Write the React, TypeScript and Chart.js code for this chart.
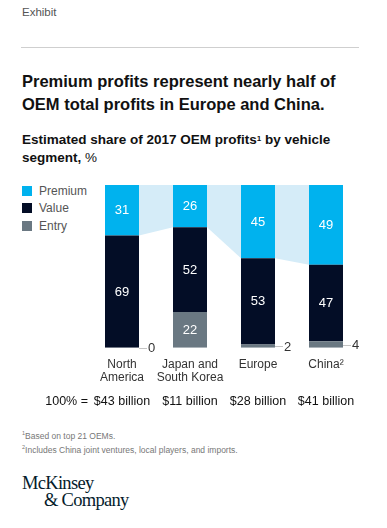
import React, { useEffect, useRef } from "react";
import { Chart, registerables } from "chart.js";

Chart.register(...registerables);

const categories: string[][] = [["North", "America"], ["Japan and", "South Korea"], ["Europe"], ["China²"]];
const premium = [31, 26, 45, 49];
const valueSeg = [69, 52, 53, 47];
const entry = [0, 22, 2, 4];
const totals = ["$43 billion", "$11 billion", "$28 billion", "$41 billion"];
const totalsPrefix = "100% =";

const SANS = '"Liberation Sans", Arial, sans-serif';
const C_PREMIUM = "#00b2ee";
const C_VALUE = "#030d26";
const C_ENTRY = "#6a7882";
const C_CONNECT = "#d5ecf8";

const connectorPlugin = {
  id: "connector",
  beforeDatasetsDraw(chart: any) {
    const meta = chart.getDatasetMeta(2);
    const els = meta.data;
    const ctx = chart.ctx;
    ctx.save();
    ctx.fillStyle = C_CONNECT;
    for (let i = 0; i < els.length - 1; i++) {
      const a = els[i];
      const b = els[i + 1];
      const ar = a.x + a.width / 2;
      const bl = b.x - b.width / 2;
      ctx.beginPath();
      ctx.moveTo(ar, a.y);
      ctx.lineTo(bl, b.y);
      ctx.lineTo(bl, b.base);
      ctx.lineTo(ar, a.base);
      ctx.closePath();
      ctx.fill();
    }
    ctx.restore();
  },
};

const labelPlugin = {
  id: "segLabels",
  afterDatasetsDraw(chart: any) {
    const ctx = chart.ctx;
    ctx.save();
    ctx.font = `13px ${SANS}`;
    chart.data.datasets.forEach((ds: any, di: number) => {
      const meta = chart.getDatasetMeta(di);
      meta.data.forEach((el: any, i: number) => {
        const v = ds.data[i];
        const cy = (el.y + el.base) / 2;
        if (v >= 5) {
          ctx.fillStyle = "#ffffff";
          ctx.textAlign = "center";
          ctx.textBaseline = "middle";
          ctx.fillText(String(v), el.x, cy + 0.5);
        } else {
          const right = el.x + el.width / 2;
          ctx.strokeStyle = "#c4c4c4";
          ctx.lineWidth = 1;
          ctx.beginPath();
          ctx.moveTo(right, Math.round(cy) + 0.5);
          ctx.lineTo(right + 8, Math.round(cy) + 0.5);
          ctx.stroke();
          ctx.fillStyle = "#333333";
          ctx.textAlign = "left";
          ctx.textBaseline = "middle";
          ctx.fillText(String(v), right + 9, cy + 1);
        }
      });
    });
    // totals row
    const xs = chart.scales.x;
    const y = chart.chartArea.bottom + 57;
    ctx.fillStyle = "#111111";
    ctx.font = `12.5px ${SANS}`;
    ctx.textBaseline = "alphabetic";
    ctx.textAlign = "right";
    ctx.fillText(totalsPrefix, 88, y);
    ctx.textAlign = "center";
    totals.forEach((t, i) => {
      ctx.fillText(t, xs.getPixelForValue(i), y);
    });
    ctx.restore();
  },
};

export default function App() {
  const ref = useRef<HTMLCanvasElement>(null);
  useEffect(() => {
    document.body.style.margin = "0";
    const chart = new Chart(ref.current!, {
      type: "bar",
      data: {
        labels: categories,
        datasets: [
          { label: "Entry", data: entry, backgroundColor: C_ENTRY },
          { label: "Value", data: valueSeg, backgroundColor: C_VALUE },
          { label: "Premium", data: premium, backgroundColor: C_PREMIUM },
        ],
      },
      options: {
        responsive: false,
        animation: false,
        layout: { padding: { top: 15, left: 88, right: 27, bottom: 25 } },
        datasets: { bar: { categoryPercentage: 0.5, barPercentage: 1, borderWidth: 0 } },
        plugins: { legend: { display: false }, tooltip: { enabled: false } },
        scales: {
          x: {
            stacked: true,
            grid: { display: false, drawTicks: false },
            border: { display: false },
            ticks: { color: "#333333", font: { family: SANS, size: 12, lineHeight: 1.05 }, padding: 11, maxRotation: 0, autoSkip: false },
          },
          y: { stacked: true, min: 0, max: 100, display: false },
        },
      },
      plugins: [connectorPlugin, labelPlugin],
    });
    return () => chart.destroy();
  }, []);

  const legend = [
    { label: "Premium", color: C_PREMIUM },
    { label: "Value", color: C_VALUE },
    { label: "Entry", color: C_ENTRY },
  ];

  return (
    <div style={{ position: "absolute", left: 0, top: 0, width: 387, height: 528, background: "#fff", fontFamily: SANS, overflow: "hidden" }}>
      <div style={{ position: "absolute", left: 22, top: 6, fontSize: 11.5, color: "#555" }}>Exhibit</div>
      <div style={{ position: "absolute", left: 21, top: 47, width: 338, height: 1, background: "#cfcfcf" }} />
      <div style={{ position: "absolute", left: 22, top: 70, fontSize: 16.5, fontWeight: 700, lineHeight: "23px", color: "#111", width: 360 }}>
        Premium profits represent nearly half of<br />OEM total profits in Europe and China.
      </div>
      <div style={{ position: "absolute", left: 22, top: 131, fontSize: 13.5, fontWeight: 700, lineHeight: "18px", color: "#111", width: 360 }}>
        Estimated share of 2017 OEM profits<sup style={{ fontSize: 8, verticalAlign: "top", position: "relative", top: -1 }}>1</sup> by vehicle<br />segment, <span style={{ fontWeight: 400 }}>%</span>
      </div>
      {legend.map((l, i) => (
        <div key={l.label} style={{ position: "absolute", left: 22, top: 186 + i * 17.3, height: 10, display: "flex", alignItems: "center" }}>
          <div style={{ width: 10, height: 10, background: l.color }} />
          <div style={{ marginLeft: 7, fontSize: 12, color: "#555", lineHeight: "10px" }}>{l.label}</div>
        </div>
      ))}
      <canvas ref={ref} width={387} height={250} style={{ position: "absolute", left: 0, top: 170, width: 387, height: 250 }} />
      <div style={{ position: "absolute", left: 22, top: 428, fontSize: 8.5, color: "#777", lineHeight: "11.5px" }}>
        <div><sup style={{ fontSize: 5.5 }}>1</sup>Based on top 21 OEMs.</div>
        <div><sup style={{ fontSize: 5.5 }}>2</sup>Includes China joint ventures, local players, and imports.</div>
      </div>
      <div style={{ position: "absolute", left: 22, top: 475, fontFamily: '"Liberation Serif", "DejaVu Serif", serif', fontSize: 18.5, color: "#051c2c", lineHeight: "17px", letterSpacing: -0.7 }}>
        <div>McKinsey</div>
        <div style={{ marginLeft: 22 }}>&amp; Company</div>
      </div>
    </div>
  );
}
